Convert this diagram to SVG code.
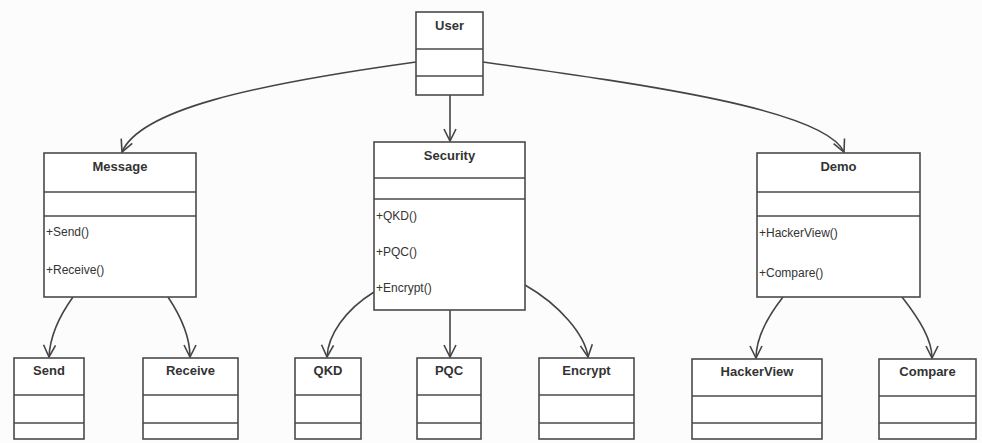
<svg xmlns="http://www.w3.org/2000/svg" width="982" height="443" viewBox="0 0 982 443">
<defs>
<marker id="arr" viewBox="0 0 14 14" refX="13" refY="7" markerWidth="14" markerHeight="14" markerUnits="userSpaceOnUse" orient="auto">
<path d="M1,1 L13,7 L1,13" fill="none" stroke="#444" stroke-width="1.6"/>
</marker>
<style>
.box{fill:#fff;stroke:#4a4a4a;stroke-width:1.6}
.div{stroke:#4a4a4a;stroke-width:1.6}
.t{font-family:"Liberation Sans",Arial,sans-serif;font-weight:bold;font-size:13px;fill:#333;text-anchor:middle}
.m{font-family:"Liberation Sans",Arial,sans-serif;font-size:12px;fill:#333}
.c{fill:none;stroke:#444;stroke-width:1.6;marker-end:url(#arr)}
</style>
</defs>
<rect width="982" height="443" fill="#fcfcfc"/>
<g id="connectors">
<path class="c" d="M416,62 C250,85 140,110 122,152"/>
<path class="c" d="M450,95 L450,141"/>
<path class="c" d="M483,62 C650,85 825,110 844,152"/>
<path class="c" d="M73,297 C60,315 50,335 49,357"/>
<path class="c" d="M168,297 C180,315 190,335 190,357"/>
<path class="c" d="M374,292 C345,310 328,335 327,357"/>
<path class="c" d="M450,310 L450,357"/>
<path class="c" d="M525,285 C560,305 585,335 588,357"/>
<path class="c" d="M783,297 C765,320 756,340 756,358"/>
<path class="c" d="M902,297 C920,320 932,340 932,358"/>
</g>
<g id="user">
<rect class="box" x="416" y="12" width="67" height="83"/>
<line class="div" x1="416" y1="49" x2="483" y2="49"/>
<line class="div" x1="416" y1="76" x2="483" y2="76"/>
<text class="t" x="449.5" y="30">User</text>
</g>
<g id="message">
<rect class="box" x="44" y="153" width="152" height="144"/>
<line class="div" x1="44" y1="192" x2="196" y2="192"/>
<line class="div" x1="44" y1="216" x2="196" y2="216"/>
<text class="t" x="120" y="171">Message</text>
<text class="m" x="46" y="236">+Send()</text>
<text class="m" x="46" y="274">+Receive()</text>
</g>
<g id="security">
<rect class="box" x="374" y="142" width="151" height="168"/>
<line class="div" x1="374" y1="178" x2="525" y2="178"/>
<line class="div" x1="374" y1="199" x2="525" y2="199"/>
<text class="t" x="449.5" y="160">Security</text>
<text class="m" x="376" y="220">+QKD()</text>
<text class="m" x="376" y="256">+PQC()</text>
<text class="m" x="376" y="292">+Encrypt()</text>
</g>
<g id="demo">
<rect class="box" x="757" y="153" width="163" height="144"/>
<line class="div" x1="757" y1="192" x2="920" y2="192"/>
<line class="div" x1="757" y1="216" x2="920" y2="216"/>
<text class="t" x="838.5" y="171">Demo</text>
<text class="m" x="759" y="237">+HackerView()</text>
<text class="m" x="759" y="277">+Compare()</text>
</g>
<g id="send">
<rect class="box" x="14" y="358" width="70" height="81"/>
<line class="div" x1="14" y1="395" x2="84" y2="395"/>
<line class="div" x1="14" y1="423" x2="84" y2="423"/>
<text class="t" x="49" y="375">Send</text>
</g>
<g id="receive">
<rect class="box" x="143" y="358" width="95" height="81"/>
<line class="div" x1="143" y1="395" x2="238" y2="395"/>
<line class="div" x1="143" y1="423" x2="238" y2="423"/>
<text class="t" x="190.5" y="375">Receive</text>
</g>
<g id="qkd">
<rect class="box" x="295" y="358" width="66" height="81"/>
<line class="div" x1="295" y1="395" x2="361" y2="395"/>
<line class="div" x1="295" y1="423" x2="361" y2="423"/>
<text class="t" x="328" y="375">QKD</text>
</g>
<g id="pqc">
<rect class="box" x="417" y="358" width="64" height="81"/>
<line class="div" x1="417" y1="395" x2="481" y2="395"/>
<line class="div" x1="417" y1="423" x2="481" y2="423"/>
<text class="t" x="449" y="375">PQC</text>
</g>
<g id="encrypt">
<rect class="box" x="539" y="358" width="95" height="81"/>
<line class="div" x1="539" y1="395" x2="634" y2="395"/>
<line class="div" x1="539" y1="423" x2="634" y2="423"/>
<text class="t" x="586.5" y="375">Encrypt</text>
</g>
<g id="hackerview">
<rect class="box" x="692" y="359" width="130" height="80"/>
<line class="div" x1="692" y1="396" x2="822" y2="396"/>
<line class="div" x1="692" y1="423" x2="822" y2="423"/>
<text class="t" x="757" y="376">HackerView</text>
</g>
<g id="compare">
<rect class="box" x="879" y="359" width="97" height="80"/>
<line class="div" x1="879" y1="396" x2="976" y2="396"/>
<line class="div" x1="879" y1="423" x2="976" y2="423"/>
<text class="t" x="927.5" y="376">Compare</text>
</g>
</svg>
